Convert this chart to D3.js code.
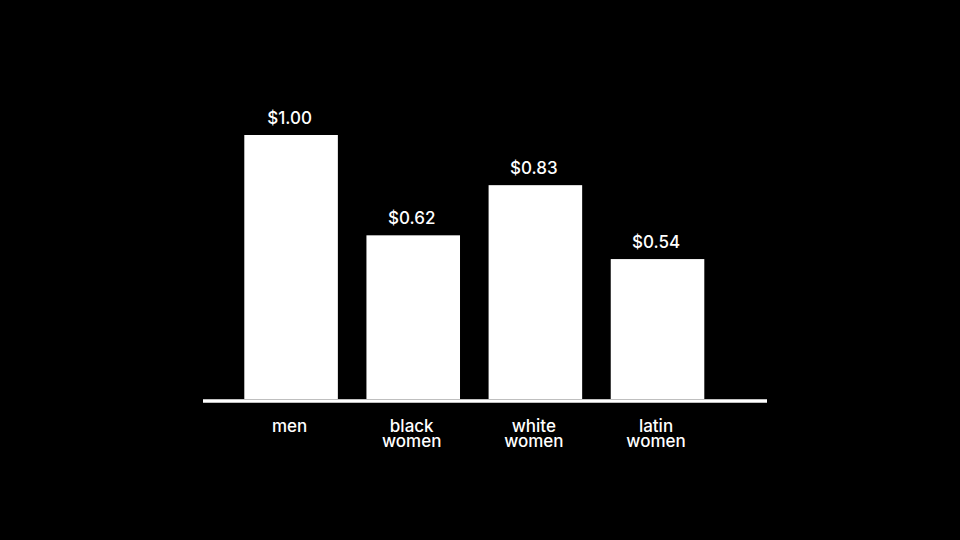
<!DOCTYPE html>
<html>
<head>
<meta charset="utf-8">
<script src="https://cdn.jsdelivr.net/npm/d3@7"></script>
<style>
  html, body { margin: 0; padding: 0; background: #000; }
  svg { display: block; }
  text { font-family: Inter, "Noto Sans", sans-serif; fill: #fff; font-weight: 500; }
</style>
</head>
<body>
<svg id="chart" width="960" height="540"></svg>
<script>
// Data
const categories = [["men"], ["black", "women"], ["white", "women"], ["latin", "women"]];
const categoryKeys = ["men", "black women", "white women", "latin women"];
const barValues = [1.00, 0.62, 0.81, 0.53];          // bar heights as drawn
const valueLabels = ["$1.00", "$0.62", "$0.83", "$0.54"]; // printed labels

const W = 960, H = 540;
const svg = d3.select("#chart");
svg.append("rect").attr("width", W).attr("height", H).attr("fill", "#000");

const x = d3.scaleBand()
  .domain(categoryKeys)
  .range([244.3, 704.3])
  .paddingInner(0.234)
  .paddingOuter(0);

const y = d3.scaleLinear()
  .domain([0, 1])
  .range([399, 135]);

const data = categoryKeys.map((k, i) => ({ key: k, value: barValues[i], label: valueLabels[i], lines: categories[i] }));

// Bars
svg.append("g").selectAll("rect").data(data).join("rect")
  .attr("x", d => x(d.key))
  .attr("y", d => y(d.value))
  .attr("width", x.bandwidth())
  .attr("height", d => y(0) - y(d.value))
  .attr("fill", "#fff");

// Baseline
svg.append("line")
  .attr("x1", 203).attr("x2", 767)
  .attr("y1", y(0) + 2).attr("y2", y(0) + 2)
  .attr("stroke", "#fff").attr("stroke-width", 3.5);

// Value labels
svg.append("g").selectAll("text").data(data).join("text")
  .attr("x", d => x(d.key) + x.bandwidth() / 2 - 1.5)
  .attr("y", d => y(d.value) - 11)
  .attr("text-anchor", "middle")
  .attr("font-size", 17)
  .text(d => d.label);

// Category labels
const cat = svg.append("g").selectAll("text").data(data).join("text")
  .attr("text-anchor", "middle")
  .attr("font-size", 17)
  .attr("y", y(0) + 33);
cat.each(function(d) {
  const t = d3.select(this);
  d.lines.forEach((ln, j) => {
    t.append("tspan")
      .attr("x", x(d.key) + x.bandwidth() / 2 - 1.5)
      .attr("dy", j === 0 ? 0 : 14.5)
      .text(ln);
  });
});
</script>
</body>
</html>
